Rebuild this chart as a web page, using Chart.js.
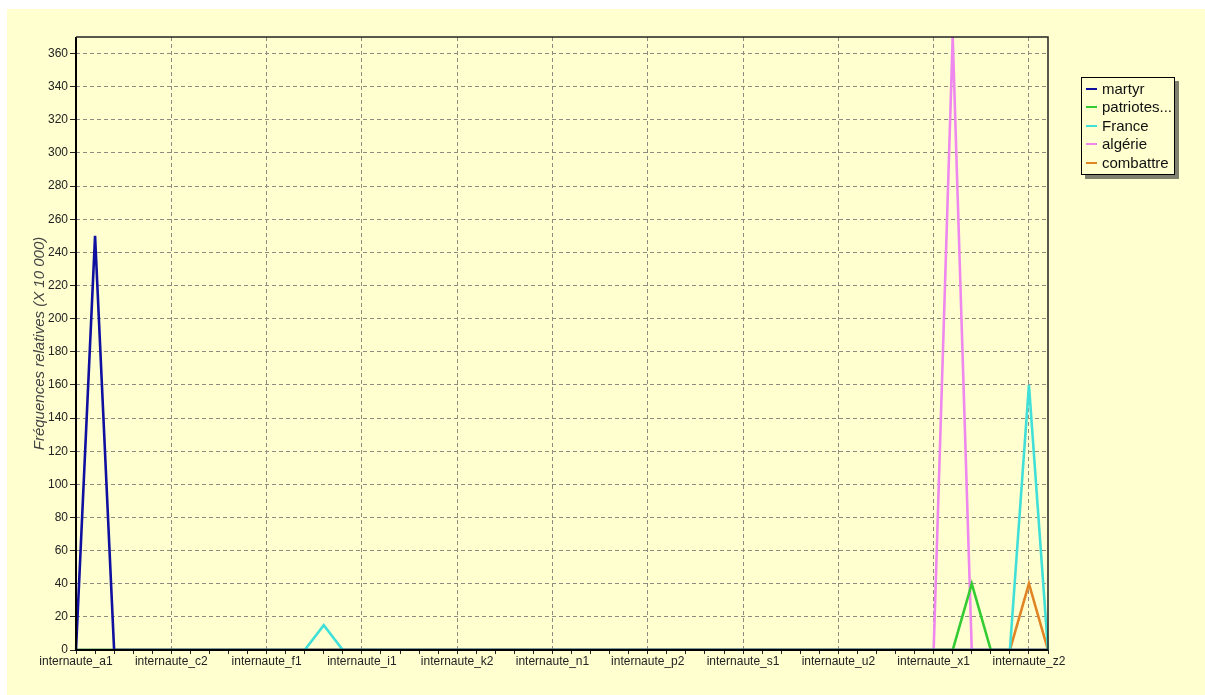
<!DOCTYPE html>
<html>
<head>
<meta charset="utf-8">
<script src="https://cdn.jsdelivr.net/npm/chart.js@4"></script>
<style>
  body { margin: 0; background: #fff; width: 1205px; height: 695px; overflow: hidden; font-family: 'Liberation Sans', Arial, sans-serif; }
  #fond { position: absolute; left: 7px; top: 9px; width: 1198px; height: 686px; background: #FFFFD0; }
  #cadre { position: absolute; left: 0; top: 0; width: 1205px; height: 695px; }
  #legende { position: absolute; left: 1081px; top: 77px; width: 94px; box-sizing: border-box; border: 1px solid #000;
    box-shadow: 4px 4px 0 #808070; background: #FFFFD0; padding: 2px 0 2px 4px; }
  .item { font-size: 15px; line-height: 18.4px; white-space: nowrap; color: #111; }
  .trait { display: inline-block; width: 11px; height: 2px; margin-right: 5px; vertical-align: middle; position: relative; top: -1px; }
</style>
</head>
<body>
<div id="fond"></div>
<div id="cadre"><canvas id="chartFrequences" width="1205" height="695"></canvas></div>
<div id="legende"></div>
<script>
const CATEGORIES = [
  'internaute_a1', 'internaute_a2', 'internaute_b1', 'internaute_b2', 'internaute_c1',
  'internaute_c2', 'internaute_d1', 'internaute_d2', 'internaute_e1', 'internaute_e2',
  'internaute_f1', 'internaute_f2', 'internaute_g1', 'internaute_g2', 'internaute_h1',
  'internaute_i1', 'internaute_i2', 'internaute_j1', 'internaute_j2', 'internaute_k1',
  'internaute_k2', 'internaute_l1', 'internaute_l2', 'internaute_m1', 'internaute_m2',
  'internaute_n1', 'internaute_n2', 'internaute_o1', 'internaute_o2', 'internaute_p1',
  'internaute_p2', 'internaute_q1', 'internaute_q2', 'internaute_r1', 'internaute_r2',
  'internaute_s1', 'internaute_s2', 'internaute_t1', 'internaute_t2', 'internaute_u1',
  'internaute_u2', 'internaute_v1', 'internaute_v2', 'internaute_w1', 'internaute_w2',
  'internaute_x1', 'internaute_x2', 'internaute_y1', 'internaute_y2', 'internaute_z1',
  'internaute_z2', 'internaute_z3'
];

const SERIES_NOMS = ['martyr', 'patriotes...', 'France', 'algérie', 'combattre'];
const SERIES_COULEURS = ['#1010A0', '#33CC33', '#40E0D8', '#EE88EE', '#E08424'];

const MARTYR = [
  0, 250, 0, 0, 0, 0, 0, 0, 0, 0,
  0, 0, 0, 0, 0, 0, 0, 0, 0, 0,
  0, 0, 0, 0, 0, 0, 0, 0, 0, 0,
  0, 0, 0, 0, 0, 0, 0, 0, 0, 0,
  0, 0, 0, 0, 0, 0, 0, 0, 0, 0,
  0, 0
];
const PATRIOTES = [
  0, 0, 0, 0, 0, 0, 0, 0, 0, 0,
  0, 0, 0, 0, 0, 0, 0, 0, 0, 0,
  0, 0, 0, 0, 0, 0, 0, 0, 0, 0,
  0, 0, 0, 0, 0, 0, 0, 0, 0, 0,
  0, 0, 0, 0, 0, 0, 0, 40, 0, 0,
  0, 0
];
const FRANCE = [
  0, 0, 0, 0, 0, 0, 0, 0, 0, 0,
  0, 0, 0, 15, 0, 0, 0, 0, 0, 0,
  0, 0, 0, 0, 0, 0, 0, 0, 0, 0,
  0, 0, 0, 0, 0, 0, 0, 0, 0, 0,
  0, 0, 0, 0, 0, 0, 0, 0, 0, 0,
  160, 0
];
const ALGERIE = [
  0, 0, 0, 0, 0, 0, 0, 0, 0, 0,
  0, 0, 0, 0, 0, 0, 0, 0, 0, 0,
  0, 0, 0, 0, 0, 0, 0, 0, 0, 0,
  0, 0, 0, 0, 0, 0, 0, 0, 0, 0,
  0, 0, 0, 0, 0, 0, 370, 0, 0, 0,
  0, 0
];
const COMBATTRE = [
  0, 0, 0, 0, 0, 0, 0, 0, 0, 0,
  0, 0, 0, 0, 0, 0, 0, 0, 0, 0,
  0, 0, 0, 0, 0, 0, 0, 0, 0, 0,
  0, 0, 0, 0, 0, 0, 0, 0, 0, 0,
  0, 0, 0, 0, 0, 0, 0, 0, 0, 0,
  40, 0
];

const Y_MAX = 370;
const Y_PAS = 20;
const POLICE = "'Liberation Sans', Arial, sans-serif";

const VALEURS = [MARTYR, PATRIOTES, FRANCE, ALGERIE, COMBATTRE];

// legende en HTML
const legende = document.getElementById('legende');
SERIES_NOMS.forEach((nom, i) => {
  const ligne = document.createElement('div');
  ligne.className = 'item';
  const trait = document.createElement('span');
  trait.className = 'trait';
  trait.style.background = SERIES_COULEURS[i];
  ligne.appendChild(trait);
  ligne.appendChild(document.createTextNode(nom));
  legende.appendChild(ligne);
});

// cadre noir autour de la zone du graphique, dessine par-dessus les courbes
const cadrePlugin = {
  id: 'cadre',
  afterDatasetsDraw(chart) {
    const { ctx, chartArea: a } = chart;
    ctx.save();
    ctx.strokeStyle = '#000';
    ctx.lineWidth = 2;
    ctx.beginPath();
    ctx.moveTo(a.left, a.top);
    ctx.lineTo(a.left, a.bottom);
    ctx.lineTo(a.right, a.bottom);
    ctx.stroke();
    ctx.strokeStyle = '#222';
    ctx.lineWidth = 1.5;
    ctx.beginPath();
    ctx.moveTo(a.left, a.top);
    ctx.lineTo(a.right, a.top);
    ctx.lineTo(a.right, a.bottom);
    ctx.stroke();
    ctx.restore();
  }
};

const datasets = SERIES_NOMS.map((nom, i) => ({
  label: nom,
  data: VALEURS[i],
  borderColor: SERIES_COULEURS[i],
  backgroundColor: SERIES_COULEURS[i],
  borderWidth: 2.6,
  pointRadius: 0,
  tension: 0,
  fill: false
}));

new Chart(document.getElementById('chartFrequences'), {
  type: 'line',
  data: { labels: CATEGORIES, datasets: datasets },
  plugins: [cadrePlugin],
  options: {
    responsive: false,
    animation: false,
    layout: { padding: { top: 37, right: 157, bottom: 0, left: 0 } },
    plugins: { legend: { display: false }, tooltip: { enabled: false } },
    scales: {
      x: {
        type: 'category',
        offset: false,
        afterFit: scale => { scale.height = 45; },
        border: { display: false, dash: [4, 3] },
        grid: {
          color: ctx => (ctx.index % 5 === 0 && ctx.index > 0 && ctx.index < CATEGORIES.length - 1) ? '#8c8c80' : 'rgba(0,0,0,0)',
          lineWidth: 1,
          tickColor: '#222',
          tickLength: 4,
          drawOnChartArea: true
        },
        ticks: {
          autoSkip: false,
          maxRotation: 0,
          minRotation: 0,
          padding: 0,
          color: '#222',
          font: { family: POLICE, size: 12 },
          callback: function (val, index) {
            return index % 5 === 0 ? CATEGORIES[index] : '';
          }
        }
      },
      y: {
        min: 0,
        max: Y_MAX,
        afterFit: scale => { scale.width = 76; },
        afterBuildTicks: scale => {
          scale.ticks = scale.ticks.filter(t => t.value % Y_PAS === 0);
        },
        border: { display: false, dash: [4, 3] },
        grid: {
          color: ctx => (ctx.tick && ctx.tick.value > 0) ? '#8c8c80' : 'rgba(0,0,0,0)',
          lineWidth: 1,
          tickColor: '#222',
          tickLength: 6
        },
        ticks: {
          stepSize: Y_PAS,
          padding: 2,
          color: '#222',
          font: { family: POLICE, size: 12 }
        },
        title: {
          display: true,
          text: 'Fréquences relatives (X 10 000)',
          color: '#444',
          font: { family: POLICE, size: 15, style: 'italic' },
          padding: { top: 31, bottom: 0 }
        }
      }
    }
  }
});
</script>
</body>
</html>
